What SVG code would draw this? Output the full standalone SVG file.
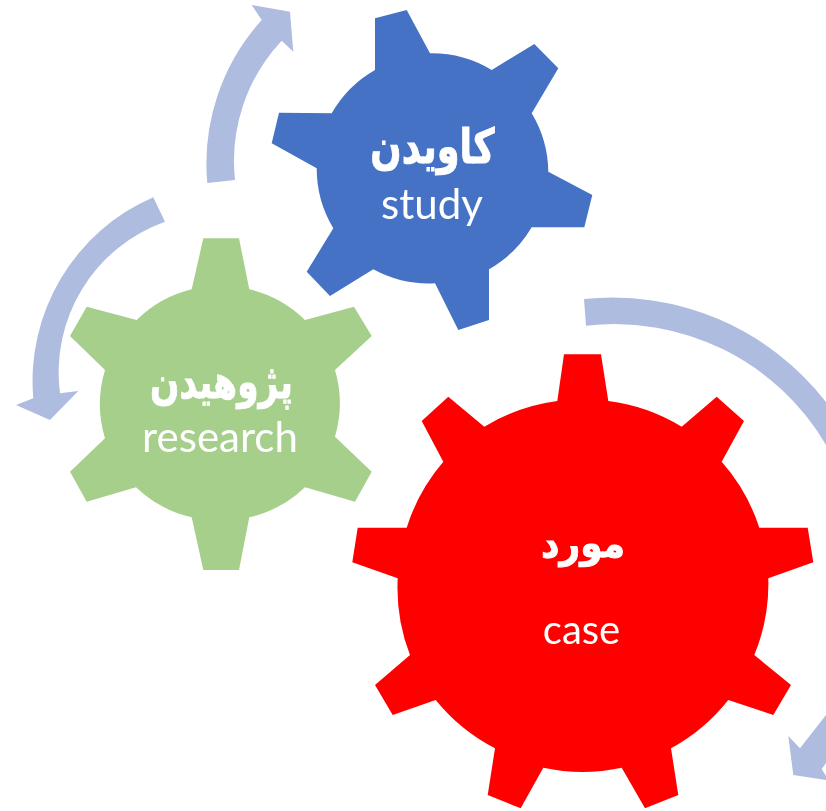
<svg xmlns="http://www.w3.org/2000/svg" width="826" height="811" viewBox="0 0 826 811">
<style>
.en{font-family:"Lato","Liberation Sans",sans-serif;fill:#fff;text-anchor:middle}
.fa{font-family:"DejaVu Sans","Liberation Sans",sans-serif;font-weight:700;fill:#fff;stroke:#fff;stroke-width:.8;text-anchor:middle;direction:rtl}
.arrow{fill:#aebcdf}
.blue{fill:#4472c4}.green{fill:#a6cf8b}.red{fill:#f00}
</style>
<defs>
<filter id="soft" x="0" y="0" width="1" height="1"><feGaussianBlur stdDeviation="0.6"/></filter>
</defs>
<rect width="826" height="811" fill="#fff"/>
<g filter="url(#soft)">
<g id="connectors">
<path class="arrow" d="M207.300,183 A214,214 0 0 1 261.700,20 L251.700,5 L290,11.700 L293.300,51.700 L281.700,40.700 A176,176 0 0 0 235,180 Z"/>
<path class="arrow" d="M153.300,197.300 A200,200 0 0 0 33.300,398.300 L16,405 L50,420 L78.300,391 L60,393.300 A160,160 0 0 1 165,221.700 Z"/>
<path class="arrow" d="M584,299 A270,270 0 0 1 826,402 L826,445 A245,245 0 0 0 586,325.700 Z"/>
<path class="arrow" d="M826,715 L800,748.300 L788.300,736 L793.300,775 L826,780 L826,776 L821.700,769 L826,763 Z"/>
</g>
<g id="gear-study" class="blue">
<path d="M375,18.300 L406.700,10 L430,53.300 A116,116 0 0 1 491.700,70 L534.300,44 L558.300,68.300 L531.700,113.300 A116,116 0 0 1 548.300,171.700 L592.300,195 L584.300,227.300 L531.700,227.300 A116,116 0 0 1 489,269.300 L489,320 L458.300,330 L435,283.300 A116,116 0 0 1 373.300,269.300 L330,296 L306.700,271.700 L333.300,228.300 A116,116 0 0 1 316.700,168.300 L271.700,143.300 L279,112.700 L331.700,113.300 A116,116 0 0 1 375,70 Z"/>
<text class="fa" transform="translate(432.500 163) scale(.92 1.2)" font-size="40">کاویدن</text>
<text class="en" x="432" y="219" font-size="42">study</text>
</g>
<g id="gear-research" class="green">
<path d="M203.300,238.300 L239,238.300 L249.300,289.300 A118,118 0 0 1 305,320 L354,306.700 L371.700,336 L335,370 A118,118 0 0 1 335,436.700 L371.700,471.700 L355,501.700 L305,487.300 A118,118 0 0 1 249.300,517.300 L239,570 L203.300,570 L191.700,517.300 A118,118 0 0 1 136,487.300 L86.700,501.700 L70,471.700 L105,438.300 A118,118 0 0 1 105,370 L70,336 L86.700,306.700 L136.700,320 A118,118 0 0 1 191.700,289.300 Z"/>
<text class="fa" transform="translate(221.500 398) scale(.86 1.15)" font-size="40">پژوهیدن</text>
<text class="en" x="220" y="452" font-size="42">research</text>
</g>
<g id="gear-case" class="red">
<path d="M564,354.300 L601,354.300 L608.300,401 A186,186 0 0 1 681.700,426.700 L716.700,396.700 L744,421 L721.700,461.700 A186,186 0 0 1 759.300,527.700 L807.700,527.700 L813.300,562.300 L768.300,578.300 A186,186 0 0 1 754.300,655 L791,685 L773.300,715 L728.300,700 A186,186 0 0 1 671,748.300 L678.300,795 L645,808.300 L621.700,767.700 A186,186 0 0 1 543.300,767.700 L520.700,808.300 L487.700,795 L495,748.300 A186,186 0 0 1 435.700,700 L392.700,715 L375,685 L410,655 A186,186 0 0 1 397.700,578.300 L352.300,562.300 L357.700,527.700 L406.700,527.700 A186,186 0 0 1 443.300,461.700 L421.700,421 L448.300,396.700 L484.300,426.700 A186,186 0 0 1 557.300,401 Z"/>
<text class="fa" transform="translate(583 557) scale(1 1.1)" font-size="36">مورد</text>
<text class="en" x="581.500" y="644" font-size="40">case</text>
</g>
</g>
</svg>
